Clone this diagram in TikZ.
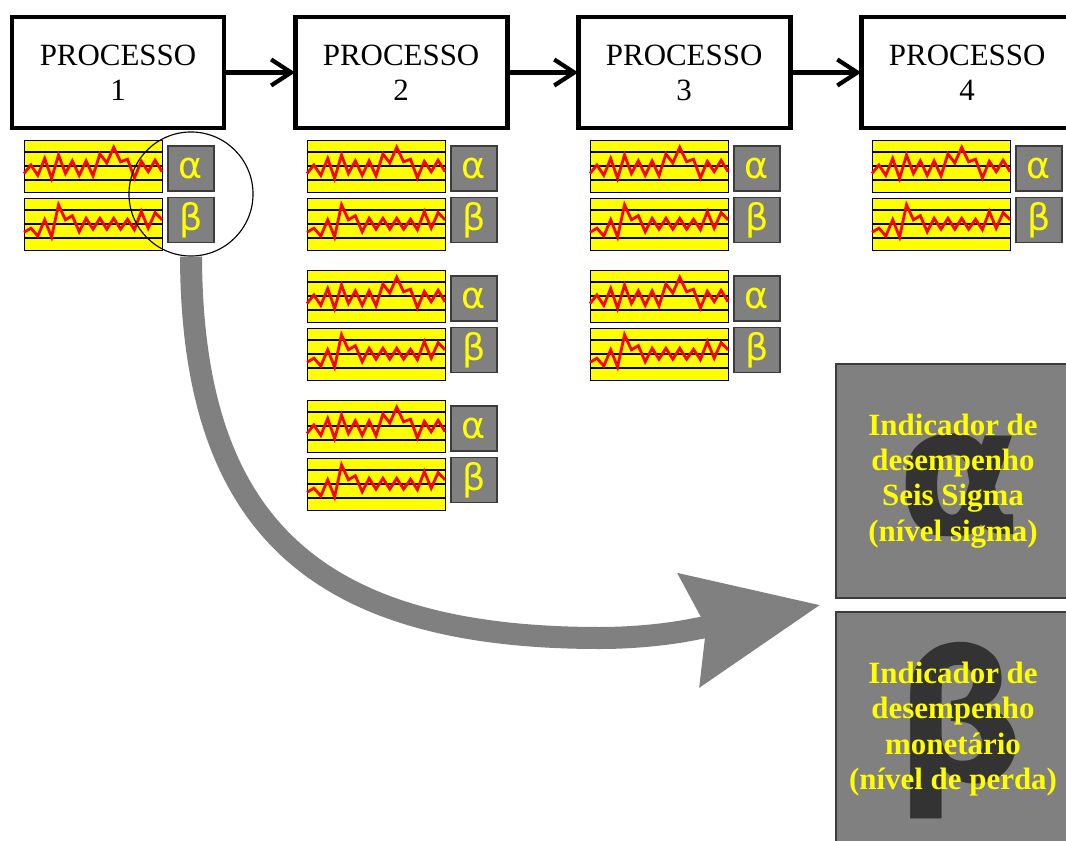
\documentclass[tikz,border=0pt]{standalone}
\usepackage{fontspec}
\setmainfont{Liberation Serif}
\setsansfont{Liberation Sans}
\newfontfamily\glyphfont{DejaVu Sans}
\usetikzlibrary{positioning,arrows.meta,calc}
\definecolor{ChartYellow}{RGB}{255,255,0}
\definecolor{TraceRed}{RGB}{255,0,0}
\definecolor{PanelGrey}{RGB}{128,128,128}
\definecolor{GlyphGrey}{RGB}{51,51,51}
\definecolor{EdgeGrey}{RGB}{60,60,60}
\definecolor{LabelYellow}{RGB}{255,255,0}
\tikzset{
  procbox/.style={draw,line width=3.5pt,minimum width=5.3cm,minimum height=2.775cm,
    outer sep=0pt,align=center,font=\fontsize{22}{25}\selectfont},
  procflow/.style={line width=3pt,-{Straight Barb[length=5mm,width=6.5mm]}},
  chartframe/.style={draw=black,fill=ChartYellow,line width=0.6pt},
  gridline/.style={draw=black,line width=0.9pt},
  redtrace/.style={draw=TraceRed,line width=2pt},
  kpilabel/.style={draw=EdgeGrey,fill=PanelGrey,line width=1pt,minimum width=1.15cm,
    minimum height=1.125cm,inner sep=0pt,text=LabelYellow,
    font=\glyphfont\fontsize{26}{26}\selectfont},
  ring/.style={circle,draw,line width=0.8pt,minimum size=3.1cm,inner sep=0pt},
  bigarrow/.style={draw=PanelGrey,line width=0.55cm,
    -{Stealth[length=3.3cm,width=2.8cm,inset=0.4cm]}},
  indbox/.style={draw=EdgeGrey,fill=PanelGrey,line width=1pt,minimum width=5.85cm,minimum height=5.85cm},
  indtext/.style={align=center,text=LabelYellow,font=\bfseries\fontsize{22}{25}\selectfont},
  bigglyph/.style={inner sep=0pt,text=GlyphGrey,font=\glyphfont\bfseries\fontsize{128}{128}\selectfont},
  pics/kpi/.style={code={
    % alpha chart
    \draw[chartframe] (0,0) rectangle (138,52);
    \foreach \h in {12,26,40} \draw[gridline] (0,\h) -- (138,\h);
    \draw[redtrace] (0,33.5) \foreach \v [count=\i] in
      {25,35.4,18.5,38.5,15,33.5,20.8,35.4,20.8,35.9,14,22.9,7.3,21.8,19.2,38,21.3,31.7,20.3,31.7}
      {-- (\i*6.9,\v)};
    % beta chart
    \draw[chartframe] (0,58) rectangle (138,110);
    \foreach \h in {12,26,40} \draw[gridline] (0,58+\h) -- (138,58+\h);
    \draw[redtrace] (0,92.3) \foreach \v [count=\i] in
      {30.2,38,21.8,39,6.8,21.8,17.7,33.8,20.3,31.2,20.3,31.2,20.3,31.2,21.3,31.7,13.5,30.2,14.6,21.8}
      {-- (\i*6.9,58+\v)};
    \node[kpilabel] (-a) at (167,28.5) {α};
    \node[kpilabel] (-b) at (167,80) {β};
  }}
}

\begin{document}
\begin{tikzpicture}[x=0.025cm,y=-0.025cm]
  \useasboundingbox[fill=white] (0,0) rectangle (1066,841);

  % process chain
  \node[procbox] (p1) at (118,72.5) {PROCESSO\\1};
  \node[procbox,right=1.775cm of p1] (p2) {PROCESSO\\2};
  \node[procbox,right=1.775cm of p2] (p3) {PROCESSO\\3};
  \node[procbox,right=1.775cm of p3] (p4) {PROCESSO\\4};
  \foreach \a/\b in {p1/p2,p2/p3,p3/p4} \draw[procflow] (\a) -- (\b);

  % control charts with their indicators
  \pic (k1) at (24,140) {kpi};
  \pic (k2a) at (307,140) {kpi};
  \pic (k2b) at (307,270) {kpi};
  \pic (k2c) at (307,400) {kpi};
  \pic (k3a) at (590,140) {kpi};
  \pic (k3b) at (590,270) {kpi};
  \pic (k4) at (872,140) {kpi};

  \node[ring] (zoomring) at (191,194) {};

  % indicator panels
  \node[indbox] (alphaind) at (953,481) {};
  \node[bigglyph] (alphaglyph) at ($(alphaind.center)+(6,4)$) {α};
  \node[indtext] (alphatext) at (alphaind.center) {Indicador de\\desempenho\\Seis Sigma\\(nível sigma)};
  \node[indbox] (betaind) at (953,729) {};
  \node[bigglyph] (betaglyph) at ($(betaind.center)+(7,2)$) {β};
  \node[indtext] (betatext) at (betaind.center) {Indicador de\\desempenho\\monetário\\(nível de perda)};

  % big curved arrow from the zoomed indicators to the panels
  \coordinate (bend) at (600,638);
  \coordinate (join) at (690,630);
  \coordinate (target) at ($(alphaind.south west)!0.5!(betaind.north west)+(-15,0)$);
  \draw[bigarrow] (zoomring.south) .. controls (192,524) and (314,638) .. (bend)
    .. controls (630,638) and (664,635) .. (join) -- (target);
\end{tikzpicture}
\end{document}
